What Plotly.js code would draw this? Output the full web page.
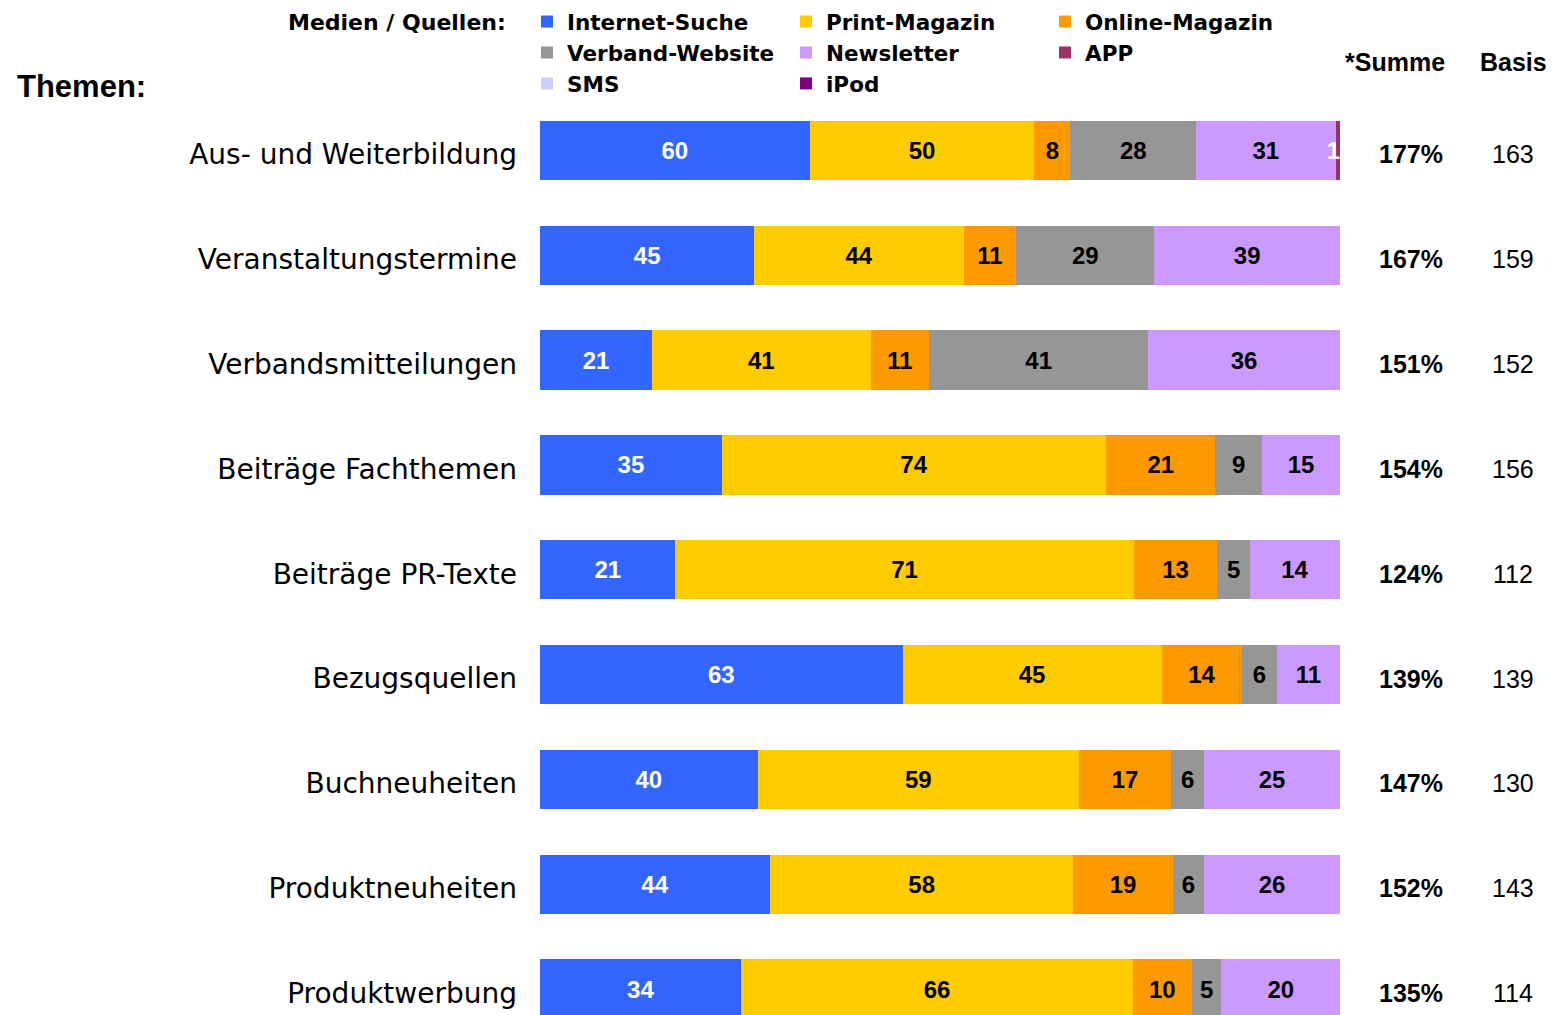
<!DOCTYPE html>
<html><head><meta charset="utf-8">
<script src="https://cdn.plot.ly/plotly-3.0.1.min.js"></script>
<style>html,body{margin:0;padding:0;background:#fff;overflow:hidden}</style>
</head><body><div id="chart" style="width:1562px;height:1015px"></div>
<script>
const themen = ["Aus- und Weiterbildung","Veranstaltungstermine","Verbandsmitteilungen","Beiträge Fachthemen","Beiträge PR-Texte","Bezugsquellen","Buchneuheiten","Produktneuheiten","Produktwerbung"];
const internetSuche  = [60,45,21,35,21,63,40,44,34];
const printMagazin   = [50,44,41,74,71,45,59,58,66];
const onlineMagazin  = [8,11,11,21,13,14,17,19,10];
const verbandWebsite = [28,29,41,9,5,6,6,6,5];
const newsletter     = [31,39,36,15,14,11,25,26,20];
const app            = [1,0,0,0,0,0,0,0,0];
const sms            = [0,0,0,0,0,0,0,0,0];
const ipod           = [0,0,0,0,0,0,0,0,0];
const summe = [177,167,151,154,124,139,147,152,135];
const basis = [163,159,152,156,112,139,130,143,114];

const seriesNames = ["Internet-Suche","Print-Magazin","Online-Magazin","Verband-Website","Newsletter","APP","SMS","iPod"];
const seriesValues = [internetSuche,printMagazin,onlineMagazin,verbandWebsite,newsletter,app,sms,ipod];
const seriesColors = ["#3366FF","#FFCC00","#FF9900","#969696","#CC99FF","#993366","#CCCCFF","#800080"];
const textColors = ["#FFFFFF","#000000","#000000","#000000","#000000","#FFFFFF","#000000","#FFFFFF"];

const ARIAL = "Liberation Sans, Arial, sans-serif";
const DEJA = "DejaVu Sans, sans-serif";

// page geometry (pixels)
const W = 1562, H = 1015;
const ML = 527, MR = 222, MT = 97.5, MB = 0;
const PW = W - ML - MR, PH = H - MT - MB;
const px2x = p => (p - ML) / PW;
const py2y = p => 1 - (p - MT) / PH;

const traces = seriesNames.map((name, k) => ({
  type: 'bar', orientation: 'h', name: name,
  y: themen, x: seriesValues[k],
  marker: {color: seriesColors[k]},
  text: seriesValues[k].map(v => v ? String(v) : ''),
  textposition: 'inside',
  insidetextanchor: name === 'APP' ? 'end' : 'middle',
  textangle: 0,
  constraintext: 'none',
  textfont: {family: ARIAL, size: 24, color: textColors[k], weight: 'bold'},
  hoverinfo: 'skip'
}));

const annotations = [];
annotations.push({xref:'paper', yref:'paper', x:px2x(15), y:py2y(86), xanchor:'left', yanchor:'middle', showarrow:false,
  text:'Themen:', font:{family:ARIAL, size:31, color:'#000', weight:'bold'}});
annotations.push({xref:'paper', yref:'paper', x:px2x(508), y:py2y(22), xanchor:'right', yanchor:'middle', showarrow:false,
  text:'Medien / Quellen:', font:{family:DEJA, size:22, color:'#000', weight:'bold'}});
annotations.push({xref:'paper', yref:'paper', x:px2x(1394.5), y:py2y(61), xanchor:'center', yanchor:'middle', showarrow:false,
  text:'*Summe', font:{family:ARIAL, size:25, color:'#000', weight:'bold'}});
annotations.push({xref:'paper', yref:'paper', x:px2x(1513), y:py2y(61), xanchor:'center', yanchor:'middle', showarrow:false,
  text:'Basis', font:{family:ARIAL, size:25, color:'#000', weight:'bold'}});
themen.forEach((t, i) => {
  annotations.push({xref:'paper', yref:'y', x:px2x(1410.5), y:t, xanchor:'center', yanchor:'middle', showarrow:false, yshift:-4,
    text: summe[i] + '%', font:{family:ARIAL, size:25, color:'#000', weight:'bold'}});
  annotations.push({xref:'paper', yref:'y', x:px2x(1513), y:t, xanchor:'center', yanchor:'middle', showarrow:false, yshift:-4,
    text: String(basis[i]), font:{family:ARIAL, size:25, color:'#000'}});
});

const layout = {
  width: W, height: H,
  margin: {l:ML, r:MR, t:MT, b:MB, pad:0, autoexpand:false},
  paper_bgcolor:'#fff', plot_bgcolor:'#fff',
  barmode:'stack', barnorm:'percent', bargap:0.435,
  showlegend:true,
  legend:{orientation:'h', xref:'paper', yref:'paper', x:0, y:py2y(0.5), xanchor:'left', yanchor:'top',
    entrywidth:214, entrywidthmode:'pixels', traceorder:'normal',
    font:{family:DEJA, size:21.5, color:'#000', weight:'bold'}, bgcolor:'rgba(0,0,0,0)', borderwidth:0},
  xaxis:{range:[0,100], domain:[px2x(540), 1], visible:false, fixedrange:true},
  yaxis:{type:'category', categoryorder:'array', categoryarray:themen, range:[8.247,-0.5],
    showgrid:false, zeroline:false, showline:false, ticks:'', ticklabelstandoff:22, ticklabelshift:-4,
    tickfont:{family:DEJA, size:28, color:'#000'}, fixedrange:true, automargin:false},
  annotations: annotations,
  hovermode:false
};

Plotly.newPlot('chart', traces, layout, {displayModeBar:false, staticPlot:true});
</script>
</body></html>
